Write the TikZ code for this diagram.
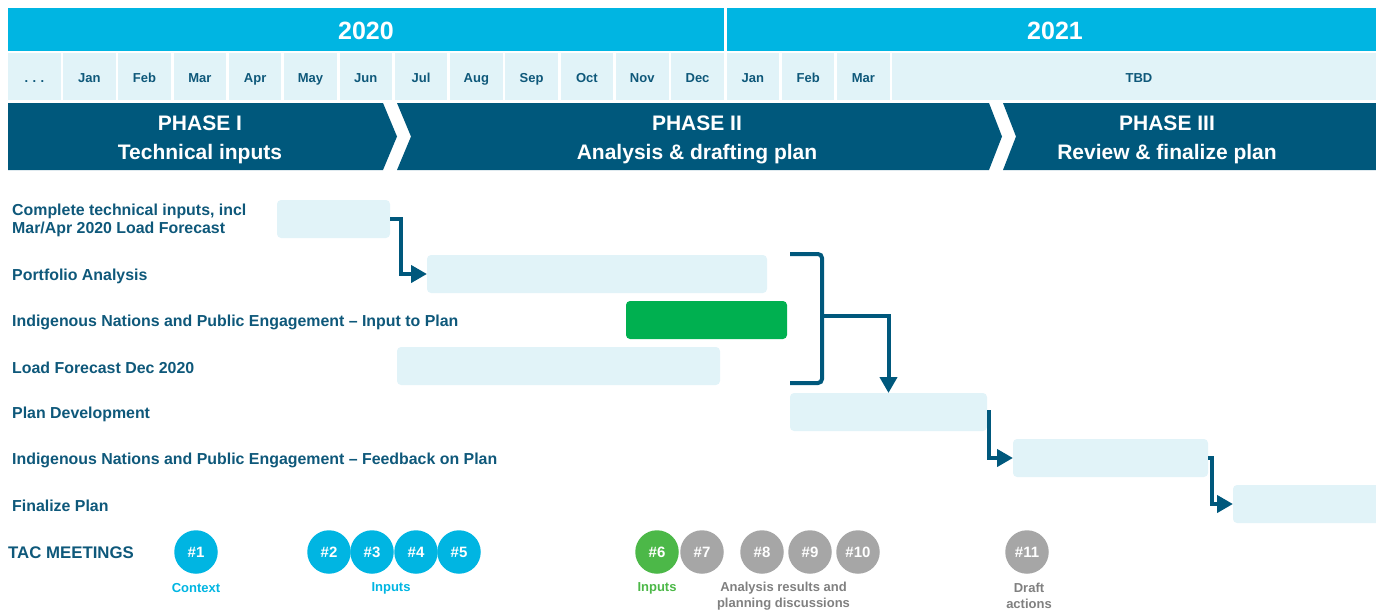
\documentclass[tikz,border=0pt]{standalone}
\usepackage{fontspec}
\setmainfont{Liberation Sans}
\usetikzlibrary{arrows.meta}

\definecolor{skyband}{RGB}{0,181,226}
\definecolor{paleband}{RGB}{225,243,248}
\definecolor{navy}{RGB}{0,88,124}
\definecolor{labelnavy}{RGB}{14,88,122}
\definecolor{leafgreen}{RGB}{0,176,80}
\definecolor{softgreen}{RGB}{76,184,72}
\definecolor{stone}{RGB}{166,166,166}
\definecolor{stonetext}{RGB}{128,128,128}

\begin{document}
\begin{tikzpicture}[x=1pt,y=-1pt,
  yearlabel/.style={text=white,font=\bfseries\fontsize{25}{30}\selectfont},
  monthcell/.style={fill=paleband,inner sep=0pt,outer sep=0pt,minimum height=47pt,anchor=north west},
  monthtext/.style={anchor=base,inner sep=0pt,text=labelnavy,font=\bfseries\fontsize{13}{15}\selectfont},
  phasetext/.style={text=white,align=center,font=\bfseries\fontsize{21}{29}\selectfont},
  tasklabel/.style={anchor=west,text=labelnavy,align=left,inner sep=0pt,font=\bfseries\fontsize{15.9}{18}\selectfont},
  bar/.style={fill=paleband,rounded corners=4pt,minimum height=38pt,inner sep=0pt,outer sep=0pt,anchor=north west},
  link/.style={draw=navy,line width=4pt,line join=miter,-{Triangle[length=16pt,width=17pt]}},
  bracketline/.style={draw=navy,line width=4pt},
  meet/.style={circle,minimum size=43.5pt,inner sep=0pt,text=white,font=\bfseries\fontsize{15}{18}\selectfont},
  meetlabel/.style={align=center,font=\bfseries\fontsize{13}{16}\selectfont}
]
\useasboundingbox (0,0) rectangle (1376,611);

% year bands
\fill[skyband] (8,8) rectangle (724,51);
\fill[skyband] (727,8) rectangle (1380,51);
\node[yearlabel] (y2020) at (366,31) {2020};
\node[yearlabel] (y2021) at (1055,31) {2021};

% month row: pale cells with labels set on a common baseline
\node[monthcell,minimum width=53pt] (mdots) at (8,53) {};
\node[monthtext] at (34.5,82) {.\,\,.\,\,.};
\foreach \m [count=\i from 0] in {Jan,Feb,Mar,Apr,May,Jun,Jul,Aug,Sep,Oct,Nov,Dec,Jan,Feb,Mar}{
  \node[monthcell,minimum width=52.5pt] (m\i) at ({63+55.3*\i},53) {};
  \node[monthtext] at ({63+55.3*\i+26.25},82) {\m};
}
\node[monthcell,minimum width=490pt] (mtbd) at (892,53) {};
\node[monthtext] at (1139,82) {TBD};

% phase chevrons
\fill[navy] (8,103) -- (383,103) -- (397,136.5) -- (383,170) -- (8,170) -- cycle;
\fill[navy] (397,103) -- (989,103) -- (1002,136.5) -- (989,170) -- (397,170) -- (411,136.5) -- cycle;
\fill[navy] (1003,103) -- (1380,103) -- (1380,170) -- (1003,170) -- (1016,136.5) -- cycle;
\node[phasetext] (p1) at (200,139.5) {PHASE I\\Technical inputs};
\node[phasetext] (p2) at (697,139.5) {PHASE II\\Analysis \& drafting plan};
\node[phasetext] (p3) at (1167,139.5) {PHASE III\\Review \& finalize plan};

% task labels
\node[tasklabel] (t1) at (12,220.5) {Complete technical inputs, incl\\Mar/Apr 2020 Load Forecast};
\node[tasklabel] (t2) at (12,276) {Portfolio Analysis};
\node[tasklabel] (t3) at (12,322) {Indigenous Nations and Public Engagement -- Input to Plan};
\node[tasklabel] (t4) at (12,368) {Load Forecast Dec 2020};
\node[tasklabel] (t5) at (12,414) {Plan Development};
\node[tasklabel] (t6) at (12,460) {Indigenous Nations and Public Engagement -- Feedback on Plan};
\node[tasklabel] (t7) at (12,506) {Finalize Plan};

% task bars
\node[bar,minimum width=113pt] (b1) at (277,200) {};
\node[bar,minimum width=340pt] (b2) at (427,255) {};
\node[bar,minimum width=161pt,fill=leafgreen] (b3) at (626,301) {};
\node[bar,minimum width=323pt] (b4) at (397,347) {};
\node[bar,minimum width=197pt] (b5) at (790,393) {};
\node[bar,minimum width=195pt] (b6) at (1013,439) {};
\node[bar,minimum width=160pt] (b7) at (1233,485) {};

% dependencies
\draw[link] (b1.east) -- ++(11,0) |- (b2.west);
\coordinate (brT) at (790,254);
\coordinate (brB) at (790,383);
\coordinate (brM) at (822,316);
\draw[bracketline,rounded corners=4pt] (brT) -- (822,254) -- (822,383) -- (brB);
\draw[link] (brM) -| (b5.north);
\draw[link] (b5.east) -- ++(2,0) |- (b6.west);
\draw[link] (b6.east) -- ++(4,0) |- (b7.west);

% TAC meetings
\node[anchor=west,inner sep=0pt,text=labelnavy,font=\bfseries\fontsize{16.8}{19}\selectfont] (tac) at (8,553) {TAC MEETINGS};
\node[meet,fill=skyband] (c1) at (196,552) {\#1};
\node[meet,fill=skyband] (c2) at (329,552) {\#2};
\node[meet,fill=skyband] (c3) at (372,552) {\#3};
\node[meet,fill=skyband] (c4) at (416,552) {\#4};
\node[meet,fill=skyband] (c5) at (459,552) {\#5};
\node[meet,fill=softgreen] (c6) at (657,552) {\#6};
\node[meet,fill=stone] (c7) at (702,552) {\#7};
\node[meet,fill=stone] (c8) at (762,552) {\#8};
\node[meet,fill=stone] (c9) at (810,552) {\#9};
\node[meet,fill=stone] (c10) at (858,552) {\#10};
\node[meet,fill=stone] (c11) at (1027,552) {\#11};

\node[meetlabel,text=skyband] (l1) at (196,588) {Context};
\node[meetlabel,text=skyband] (l2) at (391,588) {Inputs};
\node[meetlabel,text=softgreen] (l3) at (657,588) {Inputs};
\node[meetlabel,text=stonetext] (l4) at (783.5,596) {Analysis results and\\planning discussions};
\node[meetlabel,text=stonetext] (l5) at (1029,596) {Draft\\actions};
\end{tikzpicture}
\end{document}
